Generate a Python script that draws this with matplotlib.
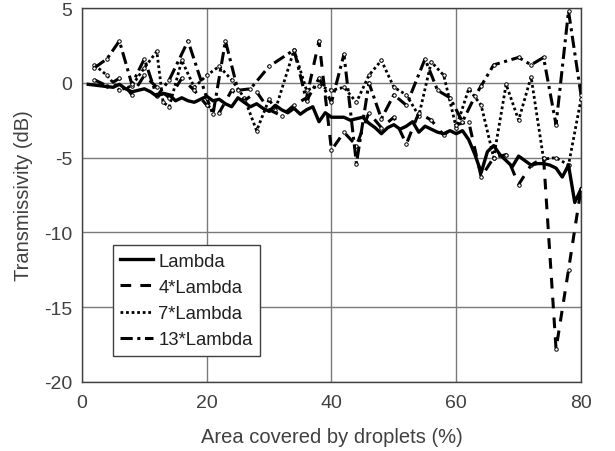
import matplotlib
matplotlib.use("Agg")
import matplotlib.pyplot as plt

plt.rcParams['font.family'] = ['Liberation Sans', 'DejaVu Sans']
plt.rcParams['axes.unicode_minus'] = False

# Lambda (solid), step 1
lam_x = list(range(1, 81))
lam_y = [-0.1, -0.15, -0.2, -0.25, -0.3, -0.1, -0.4, -0.6, -0.5, -0.4,
         -0.6, -0.9, -0.7, -0.8, -1.2, -1.0, -1.2, -1.3, -1.1, -0.9,
         -1.2, -1.1, -1.4, -1.6, -1.0, -1.3, -1.6, -1.4, -1.7, -1.9,
         -1.5, -1.8, -2.0, -1.7, -2.1, -1.8, -1.6, -2.6, -2.0, -2.3,
         -2.3, -2.3, -2.5, -2.4, -2.3, -2.7, -3.0, -3.4, -3.0, -2.8,
         -3.1, -2.9, -2.6, -3.3, -2.9, -3.1, -3.3, -3.4, -3.2, -3.4,
         -3.2, -3.8, -4.8, -6.0, -4.6, -4.2, -4.8, -5.2, -5.6, -4.9,
         -5.2, -5.5, -5.4, -5.4, -5.5, -5.7, -6.3, -5.5, -8.0, -7.1]

# 4*Lambda (dashed)
l4_x = [2, 4, 6, 8, 10, 12, 14, 16, 18, 20, 22, 24, 26, 28, 30, 32, 34, 36, 38, 40,
        42, 44, 46, 48, 50, 52, 54, 56, 58, 60, 62, 64, 66, 68, 70, 72, 74, 76, 78, 80]
l4_y = [0.2, -0.2, 0.3, -0.8, 0.5, -0.3, -1.0, 0.3, -0.5, -1.5,
        -2.0, -0.5, -1.2, -0.6, -1.8, -2.2, -1.5, -1.0, 2.8, -4.5,
        -3.3, -4.2, -2.0, -3.0, -2.3, -4.1, -2.0, -2.5, -3.5, -2.8,
        -2.6, -6.3, -5.0, -4.8, -6.8, -5.5, -5.0, -17.8, -12.5, -7.1]

# 7*Lambda (dotted)
l7_x = [2, 4, 6, 8, 10, 12, 13, 14, 16, 18, 20, 22, 24, 26, 28, 30, 31, 34, 36, 38,
        40, 42, 44, 46, 48, 50, 52, 54, 56, 58, 60, 62, 64, 66, 68, 70, 72, 74, 76, 78, 80]
l7_y = [1.2, 0.5, -0.5, -0.2, 1.0, 2.1, -1.3, -1.6, 1.5, -0.3,
        0.5, 1.1, 0.2, -1.0, -3.2, -1.1, -1.8, 2.2, -0.5, -0.2,
        -0.5, -0.3, -1.3, 0.5, 1.5, -0.3, -0.8, -2.2, 1.4, 0.5,
        -3.0, -0.4, -1.5, -5.0, -0.1, -2.5, 0.4, -5.1, -5.0, -5.5, -1.1]

# 13*Lambda (dash-dot)
l13_x = [2, 4, 6, 8, 10, 12, 14, 17, 20, 21, 23, 25, 27, 30, 34, 36, 38, 40, 42, 44,
         46, 48, 50, 52, 55, 57, 59, 61, 63, 64, 66, 70, 72, 74, 76, 78, 80]
l13_y = [1.0, 1.6, 2.8, -0.1, 1.6, -0.9, 0.2, 2.8, -1.0, -2.1,
         2.8, -0.5, -0.4, 1.1, 2.2, -1.2, 0.3, -1.3, 1.9, -5.4,
         0.0, -2.4, -0.8, -1.5, 1.6, -0.5, -1.0, -2.6, -0.9, -0.2,
         1.2, 1.7, 1.2, 1.7, -2.8, 4.8, -0.8]

x_ticks = [0, 20, 40, 60, 80]
y_ticks = [-20, -15, -10, -5, 0, 5]

fig = plt.figure(figsize=(6.15, 4.52), dpi=100)
ax = fig.add_axes([0.1333, 0.1527, 0.8114, 0.8273])

text_c = '#404040'
mk = dict(marker='o', markersize=2.5, markerfacecolor='white',
          markeredgecolor='black', markeredgewidth=0.7)

ax.plot(lam_x, lam_y, color='black', lw=2.4, linestyle='-', label='Lambda', zorder=5)
ax.plot(l4_x, l4_y, color='black', lw=2.2, linestyle=(0, (3.5, 3)), label='4*Lambda', zorder=4, **mk)
ax.plot(l7_x, l7_y, color='black', lw=2.0, linestyle=(0, (1, 1)), label='7*Lambda', zorder=3, **mk)
ax.plot(l13_x, l13_y, color='black', lw=2.2, linestyle=(0, (4, 1.5, 1, 1.5)), label='13*Lambda', zorder=4, **mk)

ax.set_xlim(0, 80)
ax.set_ylim(-20, 5)
ax.set_xticks(x_ticks)
ax.set_yticks(y_ticks)
ax.grid(True, color='#7a7a7a', lw=1.0)
ax.set_axisbelow(True)
for s in ax.spines.values():
    s.set_color('#404040')
    s.set_linewidth(1.0)
ax.tick_params(axis='both', labelsize=14, colors=text_c, direction='in', length=0)
ax.tick_params(axis='x', pad=9)
ax.tick_params(axis='y', pad=7)
ax.set_xlabel('Area covered by droplets (%)', fontsize=14.5, color=text_c, labelpad=11)
ax.set_ylabel('Transmissivity (dB)', fontsize=14.5, color=text_c, labelpad=8)

leg = ax.legend(loc='lower left', bbox_to_anchor=(0.062, 0.07), fontsize=13.3,
                frameon=True, fancybox=False, framealpha=1, edgecolor='#404040',
                handlelength=1.75, handletextpad=0.3, borderpad=0.4, labelspacing=0.5,
                borderaxespad=0)
leg.get_frame().set_linewidth(1.0)
for t in leg.get_texts():
    t.set_color('#202020')
for h in leg.get_lines():
    h.set_marker('')

fig.savefig('out.png', dpi=100)
